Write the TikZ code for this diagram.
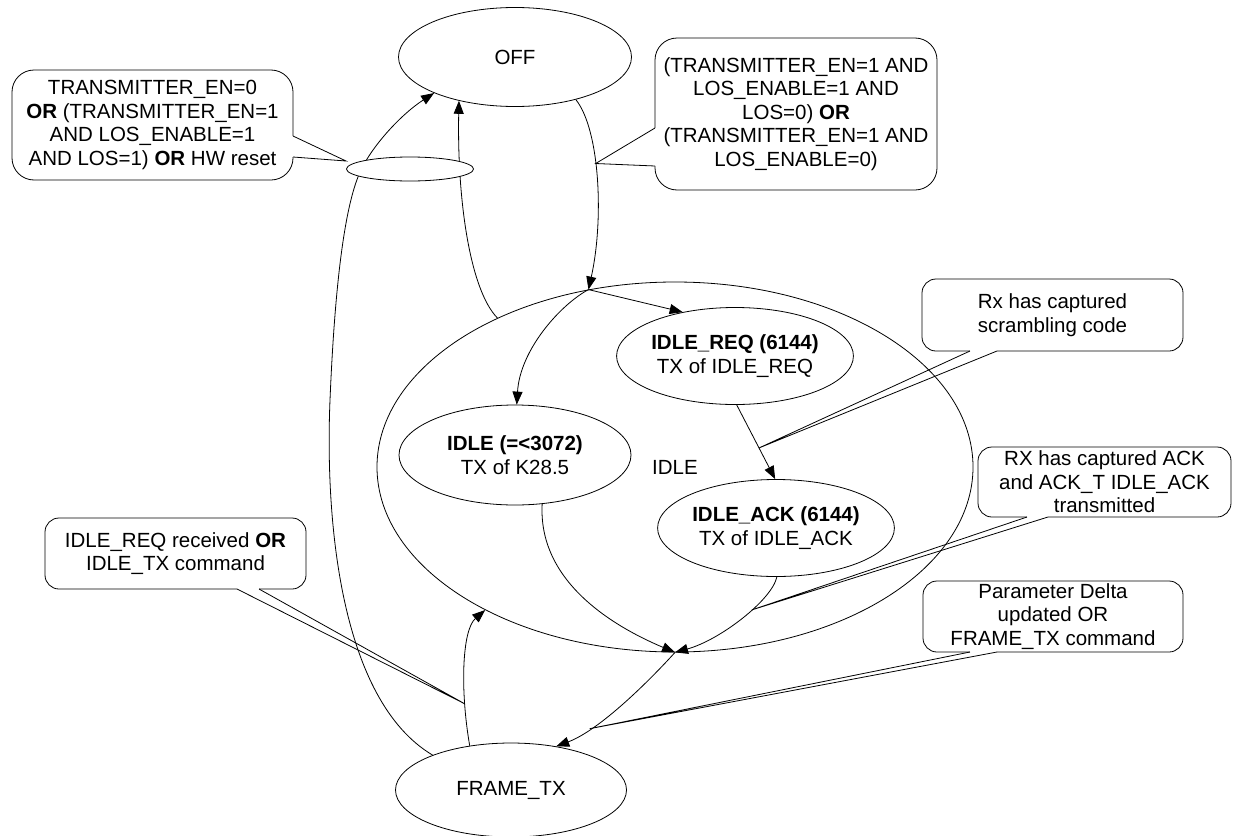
\documentclass[tikz,border=0pt]{standalone}
\usepackage{fontspec}
\setmainfont{Liberation Sans}
\usetikzlibrary{shapes.geometric,arrows.meta}

\begin{document}
\begin{tikzpicture}[x=1pt,y=-1pt,
  every node/.style={font=\fontsize{20.5}{23.5}\selectfont, align=center, inner sep=0pt},
  line width=0.8pt,
  state/.style={draw, ellipse},
  callout/.style={draw, fill=white, rounded corners=#1},
  callout/.default=14pt,
  arr/.style={-{Triangle[length=13pt,width=10pt]}},
]
\useasboundingbox (0,0) rectangle (1233,835);

% states
\node[state, minimum width=596pt, minimum height=370pt] (idle) at (675,467) {IDLE};
\node[state, minimum width=233pt, minimum height=99pt] (off) at (515,57) {OFF};
\node[state, minimum width=233pt, minimum height=97pt] (req) at (735,356)
  {\textbf{IDLE\_REQ (6144)}\\TX of IDLE\_REQ};
\node[state, minimum width=232pt, minimum height=100pt] (wait) at (515,455)
  {\textbf{IDLE (=<3072)}\\TX of K28.5};
\node[state, minimum width=233pt, minimum height=97pt] (ack) at (776,528)
  {\textbf{IDLE\_ACK (6144)}\\TX of IDLE\_ACK};
\node[state, minimum width=231pt, minimum height=94pt] (frame) at (511,790) {FRAME\_TX};

\coordinate (jtop) at (idle.116.2);
\coordinate (jbot) at (idle.-90);

% transitions
\draw[arr] (off.-35) .. controls (600,130) and (604,220) .. (jtop) coordinate[pos=0.42] (tB);
\draw[arr] (idle.140.4) .. controls (470,290) and (457,200) .. (off.-142.8);
\draw[arr] (frame.156) .. controls (340,700) and (325,520) .. (330,400)
  .. controls (335,280) and (345,210) .. (358,177)
  .. controls (368,150) and (400,115) .. (off.-156.6);
\draw[arr] (frame.133.7) .. controls (460,690) and (462,630) .. (idle.-143.9) coordinate[pos=0.25] (tE);
\draw[arr] (jtop) -- (req.140.9);
\draw[arr] (jtop) .. controls (560,305) and (520,350) .. (wait.88);
\draw[arr] (req.-88) -- (ack.91) coordinate[pos=0.58] (tC);
\draw[arr] (wait.-61.6) .. controls (538,580) and (610,625) .. (jbot);
\draw[arr] (ack.-89) .. controls (772,600) and (720,640) .. (jbot) coordinate[pos=0.4] (tD);
\draw[arr] (jbot) .. controls (650,680) and (600,730) .. (frame.44.4) coordinate[pos=0.75] (tF);

% junction of the two transitions back to OFF
\node[state, fill=white, minimum width=127pt, minimum height=24pt] (join) at (410,169) {};
\coordinate (tA) at (346,161);

% condition callouts
\node[callout=22pt, minimum width=281pt, minimum height=110pt] (cA) at (152.5,125)
  {TRANSMITTER\_EN=0\\\textbf{OR} (TRANSMITTER\_EN=1\\AND LOS\_ENABLE=1\\AND LOS=1) \textbf{OR} HW reset};
\draw[white, line width=2pt] (293,136) -- (293,157);
\draw (293,136) -- (tA) -- (293,157);

\node[callout=22pt, minimum width=282pt, minimum height=152pt] (cB) at (796,114)
  {(TRANSMITTER\_EN=1 AND\\LOS\_ENABLE=1 AND\\LOS=0) \textbf{OR}\\(TRANSMITTER\_EN=1 AND\\LOS\_ENABLE=0)};
\draw[white, line width=2pt] (655,128) -- (655,166);
\draw (655,128) -- (tB) -- (655,166);

\node[callout, minimum width=261pt, minimum height=72pt] (cC) at (1052.5,315)
  {Rx has captured\\scrambling code};
\draw[white, line width=2pt] (970,351) -- (997,351);
\draw (970,351) -- (tC) -- (997,351);

\node[callout, minimum width=253pt, minimum height=70pt] (cD) at (1104.5,482)
  {RX has captured ACK\\and ACK\_T IDLE\_ACK\\transmitted};
\draw[white, line width=2pt] (1027,517) -- (1048,517);
\draw (1027,517) -- (tD) -- (1048,517);

\node[callout, minimum width=261pt, minimum height=71pt] (cE) at (175.5,553.5)
  {IDLE\_REQ received \textbf{OR}\\IDLE\_TX command};
\draw[white, line width=2pt] (237,589) -- (259,589);
\draw (237,589) -- (tE) -- (259,589);

\node[callout, minimum width=260pt, minimum height=71pt] (cF) at (1053,616.5)
  {Parameter Delta\\updated OR\\FRAME\_TX command};
\draw[white, line width=2pt] (970,652) -- (997,652);
\draw (970,652) -- (tF) -- (997,652);
\end{tikzpicture}
\end{document}
